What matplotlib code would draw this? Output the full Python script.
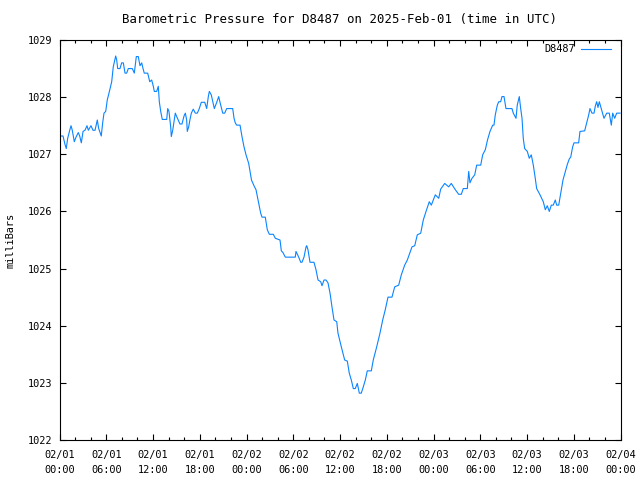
import matplotlib
matplotlib.use('Agg')
import matplotlib.pyplot as plt
from matplotlib.ticker import MultipleLocator

# hours since 2025-02-01 00:00 UTC
hours = [
    0.06, 0.45, 0.71, 0.87, 1.05, 1.35, 1.48, 1.64, 1.90, 2.12, 2.41, 2.59, 2.80, 3.02, 3.27,
    3.53, 3.70, 4.04, 4.30, 4.56, 4.85, 5.03, 5.24, 5.36, 5.54, 5.71, 5.93, 6.13, 6.35, 6.70,
    6.90, 7.12, 7.21, 7.34, 7.47, 7.76, 7.98, 8.19, 8.41, 8.62, 8.83, 9.34, 9.60, 9.86, 10.11,
    10.33, 10.55, 10.72, 10.88, 11.32, 11.58, 11.83, 12.04, 12.17, 12.47, 12.68, 12.81, 12.99,
    13.19, 13.76, 13.89, 14.05, 14.27, 14.35, 14.53, 14.86, 15.04, 15.30, 15.46, 15.72, 15.98,
    16.15, 16.32, 16.40, 16.58, 16.75, 16.92, 17.17, 17.43, 17.69, 17.94, 18.20, 18.64, 18.89,
    19.10, 19.23, 19.48, 19.87, 20.18, 20.43, 20.60, 20.95, 21.20, 21.46, 22.23, 22.40, 22.56,
    22.74, 23.17, 23.42, 23.68, 23.94, 24.28, 24.64, 24.96, 25.22, 25.57, 25.82, 25.99, 26.41,
    26.67, 26.93, 27.44, 27.70, 28.30, 28.47, 28.68, 28.98, 30.26, 30.35, 30.70, 30.96, 31.12,
    31.38, 31.64, 31.73, 31.89, 32.15, 32.66, 32.92, 33.18, 33.52, 33.69, 33.95, 34.20, 34.46,
    34.72, 34.97, 35.23, 35.58, 35.74, 36.17, 36.60, 36.94, 37.19, 37.45, 37.71, 37.96, 38.22,
    38.48, 38.73, 38.99, 39.25, 39.50, 40.02, 40.27, 40.71, 41.13, 41.48, 41.81, 42.16, 42.67,
    43.02, 43.53, 43.87, 44.30, 44.64, 45.24, 45.59, 45.92, 46.36, 46.69, 47.04, 47.46, 47.72,
    48.23, 48.67, 48.92, 49.44, 49.95, 50.28, 50.80, 51.23, 51.57, 51.82, 52.34, 52.52, 52.68,
    52.94, 53.29, 53.54, 54.06, 54.31, 54.65, 54.93, 55.25, 55.60, 55.76, 55.93, 56.19, 56.37,
    56.62, 56.79, 57.05, 57.30, 58.07, 58.24, 58.59, 58.75, 59.01, 59.19, 59.36, 59.52, 59.70,
    60.04, 60.29, 60.55, 60.81, 61.06, 61.24, 61.67, 62.09, 62.35, 62.60, 62.86, 63.12, 63.37,
    63.63, 63.81, 64.07, 64.23, 64.62, 65.17, 65.43, 65.61, 65.86, 66.03, 66.63, 66.80, 67.40,
    67.66, 67.92, 68.08, 68.34, 68.60, 68.76, 68.94, 69.11, 69.28, 69.53, 69.88, 70.23, 70.56,
    70.82, 71.00, 71.25, 71.51, 71.94,
]

pressure = [
    1027.32, 1027.32, 1027.17, 1027.10, 1027.28, 1027.44, 1027.50, 1027.42, 1027.22, 1027.30,
    1027.38, 1027.32, 1027.20, 1027.40, 1027.42, 1027.50, 1027.42, 1027.50, 1027.42, 1027.42,
    1027.60, 1027.45, 1027.37, 1027.32, 1027.55, 1027.72, 1027.75, 1027.95, 1028.07, 1028.27,
    1028.53, 1028.66, 1028.72, 1028.65, 1028.50, 1028.50, 1028.60, 1028.60, 1028.42, 1028.42,
    1028.50, 1028.50, 1028.42, 1028.71, 1028.71, 1028.55, 1028.60, 1028.50, 1028.42, 1028.42,
    1028.27, 1028.30, 1028.19, 1028.10, 1028.10, 1028.19, 1027.92, 1027.75, 1027.61, 1027.61,
    1027.80, 1027.75, 1027.48, 1027.31, 1027.42, 1027.72, 1027.66, 1027.58, 1027.53, 1027.53,
    1027.67, 1027.72, 1027.60, 1027.40, 1027.48, 1027.61, 1027.72, 1027.79, 1027.72, 1027.72,
    1027.80, 1027.91, 1027.91, 1027.80, 1028.01, 1028.10, 1028.04, 1027.80, 1027.91, 1028.01,
    1027.91, 1027.72, 1027.72, 1027.80, 1027.80, 1027.63, 1027.55, 1027.51, 1027.51, 1027.31,
    1027.13, 1026.99, 1026.84, 1026.55, 1026.45, 1026.38, 1026.14, 1025.97, 1025.90, 1025.90,
    1025.68, 1025.60, 1025.60, 1025.53, 1025.50, 1025.31, 1025.28, 1025.20, 1025.20, 1025.30,
    1025.20, 1025.11, 1025.11, 1025.20, 1025.38, 1025.40, 1025.33, 1025.11, 1025.11, 1024.98,
    1024.80, 1024.77, 1024.70, 1024.80, 1024.80, 1024.75, 1024.57, 1024.33, 1024.10, 1024.07,
    1023.87, 1023.63, 1023.40, 1023.38, 1023.17, 1023.05, 1022.90, 1022.90, 1022.99, 1022.82,
    1022.82, 1022.93, 1023.05, 1023.21, 1023.21, 1023.40, 1023.63, 1023.87, 1024.10, 1024.28,
    1024.50, 1024.50, 1024.68, 1024.71, 1024.89, 1025.06, 1025.15, 1025.38, 1025.40, 1025.59,
    1025.62, 1025.85, 1026.00, 1026.17, 1026.11, 1026.29, 1026.23, 1026.39, 1026.49, 1026.43,
    1026.49, 1026.38, 1026.30, 1026.30, 1026.40, 1026.40, 1026.70, 1026.50, 1026.58, 1026.64,
    1026.81, 1026.81, 1026.99, 1027.08, 1027.25, 1027.40, 1027.51, 1027.51, 1027.69, 1027.86,
    1027.92, 1027.92, 1028.01, 1028.01, 1027.80, 1027.80, 1027.72, 1027.63, 1027.86, 1028.01,
    1027.80, 1027.63, 1027.28, 1027.10, 1027.05, 1026.93, 1026.99, 1026.81, 1026.58, 1026.40,
    1026.29, 1026.17, 1026.03, 1026.10, 1026.00, 1026.11, 1026.11, 1026.20, 1026.11, 1026.11,
    1026.24, 1026.55, 1026.82, 1026.92, 1026.95, 1027.13, 1027.20, 1027.20, 1027.40, 1027.41,
    1027.55, 1027.69, 1027.80, 1027.72, 1027.72, 1027.84, 1027.92, 1027.82, 1027.92, 1027.80,
    1027.63, 1027.72, 1027.72, 1027.51, 1027.72, 1027.63, 1027.72, 1027.72,
]

tick_hours = list(range(0, 73, 6))
tick_labels = ['02/01\n00:00', '02/01\n06:00', '02/01\n12:00', '02/01\n18:00',
               '02/02\n00:00', '02/02\n06:00', '02/02\n12:00', '02/02\n18:00',
               '02/03\n00:00', '02/03\n06:00', '02/03\n12:00', '02/03\n18:00',
               '02/04\n00:00']
y_ticks = [1022, 1023, 1024, 1025, 1026, 1027, 1028, 1029]

plt.rcParams.update({
    'font.family': 'DejaVu Sans Mono',
    'font.size': 7.4,
    'axes.linewidth': 0.8,
})

fig = plt.figure(figsize=(6.4, 4.8), dpi=100)
ax = fig.add_axes([59.5 / 640, 40 / 480, 561 / 640, 400 / 480])

ax.plot(hours, pressure, color='#0a84ff', linewidth=0.8, label='D8487')

ax.set_xlim(0, 72)
ax.set_ylim(1022, 1029)
ax.set_xticks(tick_hours)
ax.set_xticklabels(tick_labels, linespacing=1.6)
ax.xaxis.set_minor_locator(MultipleLocator(2))
ax.set_yticks(y_ticks)

ax.tick_params(which='both', direction='in', top=True, right=True, width=0.8)
ax.tick_params(which='major', length=4.5)
ax.tick_params(which='minor', length=2.5)
ax.tick_params(axis='x', pad=7)
ax.tick_params(axis='y', pad=5)

ax.set_ylabel('milliBars', labelpad=9)
ax.set_title('Barometric Pressure for D8487 on 2025-Feb-01 (time in UTC)', pad=12)

leg = ax.legend(loc='upper right', bbox_to_anchor=(0.99, 1.0), frameon=False,
                handlelength=2.9, handletextpad=0.6, borderaxespad=0.1,
                borderpad=0.3, markerfirst=False)

fig.savefig('out.png', dpi=100)
